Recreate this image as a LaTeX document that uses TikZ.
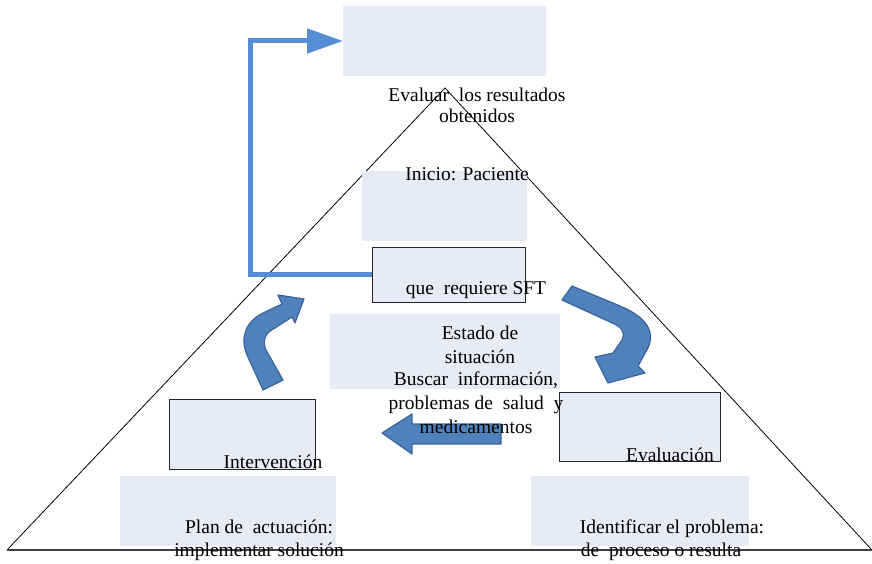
\documentclass[tikz,border=0pt]{standalone}
\usepackage{fontspec}
\setmainfont{Liberation Serif}
\usetikzlibrary{arrows.meta}
\definecolor{boxfill}{HTML}{E7EBF6}
\definecolor{connblue}{HTML}{558ED5}
\definecolor{blkfill}{HTML}{4F81BD}
\definecolor{blkdraw}{HTML}{3A659A}
\begin{document}
\begin{tikzpicture}[x=1pt,y=-1pt,
  fillbox/.style={fill=boxfill, draw=none, inner sep=0, outer sep=0},
  linebox/.style={fill=boxfill, draw=black!85, line width=0.9pt, inner sep=0, outer sep=0},
  txt/.style={font=\fontsize{19.5}{22}\selectfont, inner sep=0, anchor=base},
  tri/.style={draw=black, line width=0.8pt},
  baseln/.style={draw=black!75, line width=1.4pt},
  conn/.style={draw=connblue, line width=5pt, -{Triangle[length=36pt,width=24pt]}},
  blockarrow/.style={fill=blkfill, draw=blkdraw, line width=1.2pt, line join=round}]
\useasboundingbox (0,0) rectangle (872,564);

% triangle
\coordinate (apex) at (445,88);
\coordinate (bl) at (7,550);
\coordinate (br) at (871,549);
\coordinate (bend) at (872,550);
\draw[tri] (bl) -- (apex) -- (br);
\draw[baseln] (bl) -- (bend);

% boxes
\node[fillbox, minimum width=203pt, minimum height=70pt] (evalbox) at (444.5,41) {};
\node[fillbox, minimum width=165pt, minimum height=70pt] (iniciobox) at (444.5,206) {};
\node[linebox, minimum width=153pt, minimum height=55pt] (reqbox) at (448.5,274.5) {};
\node[fillbox, minimum width=230pt, minimum height=75pt] (estadobox) at (445,351.5) {};
\node[linebox, minimum width=146pt, minimum height=70pt] (intbox) at (242,434) {};
\node[fillbox, minimum width=216pt, minimum height=70pt] (planbox) at (228,511) {};
\node[linebox, minimum width=161pt, minimum height=69pt] (evbox) at (639.5,426.5) {};
\node[fillbox, minimum width=218pt, minimum height=70pt] (identbox) at (640,511) {};

% blue connector
\draw[conn] (reqbox.west) -- (250,274.5) |- (evalbox.west);

% block arrows
\draw[blockarrow] (263,390) -- (247,355) .. controls (240,338) and (245,322) .. (263,313)
  -- (282,304) -- (278,295) -- (304,299) -- (295,323) -- (292,317)
  -- (275,328) .. controls (265,333) and (262,340) .. (266,350) -- (283,380) -- cycle;
\draw[blockarrow] (572,286) -- (620,306) .. controls (644,316) and (656,330) .. (648,348)
  -- (638,366) -- (645,373) -- (608,383) -- (595,357) -- (613,353)
  -- (622,340) .. controls (626,331) and (620,326) .. (610,322) -- (562,300) -- cycle;
\draw[blockarrow] (501,424) -- (412,424) -- (412,414) -- (382,433) -- (412,454)
  -- (412,444) -- (501,444) -- cycle;

% texts
\node[txt] (t1) at (477,102) {Evaluar\ \ los resultados};
\node[txt] (t2) at (477,123) {obtenidos};
\node[txt] (t3) at (467,181) {Inicio: Paciente};
\node[txt] (t4) at (476,294) {que\ \ requiere SFT};
\node[txt] (t5) at (480,339) {Estado de};
\node[txt] (t6) at (480,363) {situación};
\node[txt] (t7) at (476,385) {Buscar\ \ información,};
\node[txt] (t8) at (476,409) {problemas de\ \ salud\ \ y};
\node[txt] (t9) at (476,433) {medicamentos};
\node[txt] (t10) at (273,468) {Intervención};
\node[txt] (t11) at (670,461) {Evaluación};
\node[txt] (t12) at (259,533) {Plan de\ \ actuación:};
\node[txt] (t13) at (259,556) {implementar solución};
\node[txt] (t14) at (672,533) {Identificar el\ problema:};
\node[txt] (t15) at (661,556) {de\ \ proceso o resulta};
\end{tikzpicture}
\end{document}
